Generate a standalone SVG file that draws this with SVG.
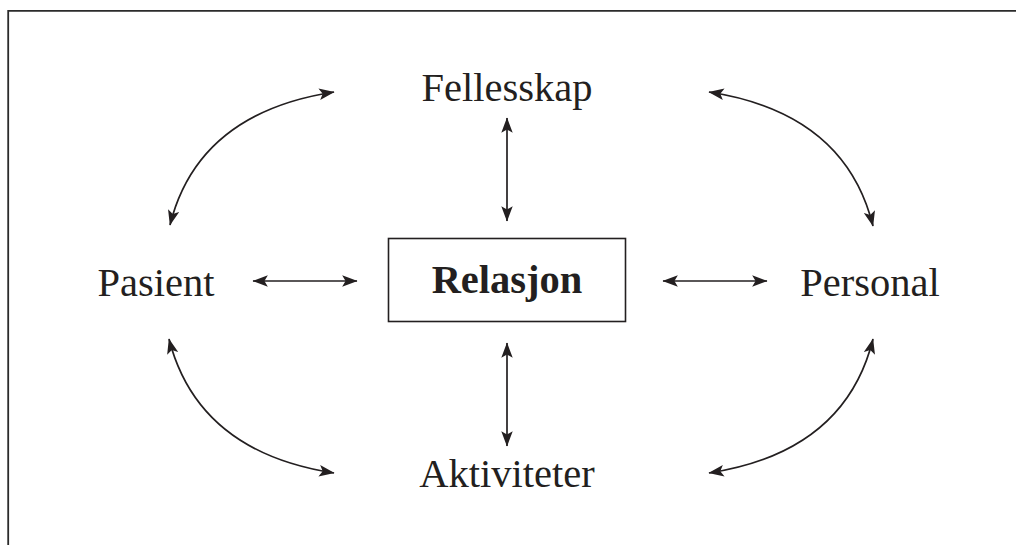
<svg xmlns="http://www.w3.org/2000/svg" width="1016" height="545" viewBox="0 0 1016 545">
<style>
.lbl{font-family:"Liberation Serif","Times New Roman",serif;font-size:40.5px;fill:#231f20;text-anchor:middle}
.bold{font-weight:bold}
.con{fill:none;stroke:#231f20;stroke-width:1.7;marker-start:url(#ah);marker-end:url(#ah)}
.frame{fill:none;stroke:#2b2b2b;stroke-width:1.8}
</style>
<defs>
<marker id="ah" markerUnits="userSpaceOnUse" markerWidth="16" markerHeight="12" viewBox="0 0 14 10" refX="13" refY="5" orient="auto-start-reverse">
<path d="M0,0 L13.5,5 L0,10 L3,5 z" fill="#231f20"/>
</marker>
</defs>
<rect width="1016" height="545" fill="#fff"/>
<path class="frame" d="M8.2,545 V10.9 H1016"/>
<g id="connectors">
<path class="con" d="M170,225 Q198,113 334,92"/>
<path class="con" d="M873,226 Q845,113 709,92"/>
<path class="con" d="M169,339 Q198,452 334,473"/>
<path class="con" d="M873,339 Q845,452 709,473"/>
<path class="con" d="M507,118 V221"/>
<path class="con" d="M507,343 V446"/>
<path class="con" d="M253,281 H357"/>
<path class="con" d="M663,281 H767"/>
</g>
<g id="fellesskap"><text class="lbl" x="507" y="101">Fellesskap</text></g>
<g id="pasient"><text class="lbl" x="156" y="296">Pasient</text></g>
<g id="relasjon"><rect x="388.5" y="238.5" width="237" height="83" fill="#fff" stroke="#231f20" stroke-width="1.6"/><text class="lbl bold" x="507" y="293">Relasjon</text></g>
<g id="personal"><text class="lbl" x="870" y="296">Personal</text></g>
<g id="aktiviteter"><text class="lbl" x="507" y="487">Aktiviteter</text></g>
</svg>
